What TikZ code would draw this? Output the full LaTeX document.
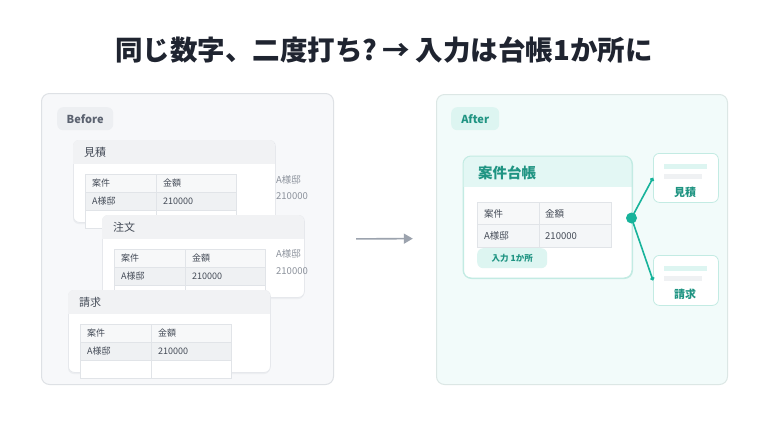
\documentclass[tikz,border=0pt]{standalone}
\usepackage{fontspec}
\setmainfont{Noto Sans CJK JP}
\usetikzlibrary{arrows.meta}
\definecolor{ink}{HTML}{1F2430}
\definecolor{bpanel}{HTML}{F7F8FA}
\definecolor{bpanelline}{HTML}{DEE1E5}
\definecolor{tagg}{HTML}{EDEFF2}
\definecolor{taggtext}{HTML}{5B6270}
\definecolor{cardhead}{HTML}{F1F2F4}
\definecolor{cardline}{HTML}{E6E8EC}
\definecolor{cardshadow}{HTML}{ECEEF1}
\definecolor{tabline}{HTML}{E1E4E8}
\definecolor{tabhead}{HTML}{F7F8F9}
\definecolor{tabrow}{HTML}{EFF1F3}
\definecolor{tabrow2}{HTML}{F4F6F8}
\definecolor{tabtext}{HTML}{444B57}
\definecolor{sidetext}{HTML}{8C929C}
\definecolor{apanel}{HTML}{F2FBFA}
\definecolor{apanelline}{HTML}{DCE7E5}
\definecolor{tealtag}{HTML}{DDF5F1}
\definecolor{tealtext}{HTML}{1F9482}
\definecolor{tealc}{HTML}{17B39B}
\definecolor{tealhead}{HTML}{E3F7F4}
\definecolor{tealline}{HTML}{C3EBE3}
\definecolor{arrowgray}{HTML}{9CA3AE}
\definecolor{bargray}{HTML}{EFF1F3}
\tikzset{
  panelbox/.style={rounded corners=8, line width=1, inner sep=0, anchor=north west},
  tagbox/.style={rounded corners=6, inner sep=0, anchor=north west, font=\bfseries\fontsize{11}{13}\selectfont},
  cardbox/.style={draw=cardline, fill=white, rounded corners=6, line width=0.8, inner sep=0, minimum width=202, minimum height=82, anchor=north west},
  tabtxt/.style={anchor=west, inner sep=0, font=\fontsize{9}{11}\selectfont, text=tabtext},
  sidetxt/.style={anchor=west, inner sep=0, font=\fontsize{9.5}{11}\selectfont, text=sidetext},
  smallcard/.style={draw=tealline, fill=white, rounded corners=6, line width=0.8, inner sep=0, minimum width=65, minimum height=49, anchor=north west},
  smalllabel/.style={inner sep=0, font=\bfseries\fontsize{11}{13}\selectfont, text=tealtext},
}
\newcommand\btable[3]{%
  \fill[tabhead] (#2,#3) rectangle ++(151,18);
  \fill[tabrow] (#2,#3+18) rectangle ++(151,18);
  \fill[white] (#2,#3+36) rectangle ++(151,18);
  \draw[tabline, line width=0.8] (#2,#3) rectangle ++(151,54);
  \draw[tabline, line width=0.8] (#2,#3+18) -- ++(151,0);
  \draw[tabline, line width=0.8] (#2,#3+36) -- ++(151,0);
  \draw[tabline, line width=0.8] (#2+71,#3) -- ++(0,54);
  \node[tabtxt] (#1-a) at (#2+7,#3+9.5) {案件};
  \node[tabtxt] (#1-b) at (#2+78,#3+9.5) {金額};
  \node[tabtxt] (#1-c) at (#2+7,#3+27.5) {A様邸};
  \node[tabtxt] (#1-d) at (#2+78,#3+27.5) {210000};
}
\newcommand\bcard[4]{%
  \fill[cardshadow, rounded corners=6] (#2,#3+2) rectangle ++(202,82);
  \node[cardbox] (#1) at (#2,#3) {};
  \begin{scope}
    \clip[rounded corners=6] (#2,#3) rectangle ++(202,82);
    \fill[cardhead] (#2,#3) rectangle ++(202,24);
  \end{scope}
  \node[anchor=west, inner sep=0, font=\fontsize{11}{13}\selectfont, text=tabtext] (#1-t) at (#2+11,#3+12.5) {#4};
  \btable{#1}{#2+12}{#3+34}
}
\begin{document}
\begin{tikzpicture}[x=1pt, y=-1pt]
\useasboundingbox (0,0) rectangle (768,432);
\fill[white] (0,0) rectangle (768,432);

% title
\node[inner sep=0, font=\bfseries\fontsize{27.5}{32}\selectfont, text=ink] (title) at (384,50) {同じ数字、二度打ち?\,→ 入力は台帳1か所に};

% ---------- Before ----------
\node[panelbox, draw=bpanelline, fill=bpanel, minimum width=292, minimum height=291] (before) at (41,93) {};
\node[tagbox, fill=tagg, text=taggtext, minimum width=56, minimum height=23] (beforetag) at (57,107) {Before};

\bcard{mitsu}{73}{140}{見積}
\node[sidetxt] (mitsu-s1) at (276,180) {A様邸};
\node[sidetxt] (mitsu-s2) at (276,196) {210000};

\bcard{chu}{102}{215}{注文}
\node[sidetxt] (chu-s1) at (276,254) {A様邸};
\node[sidetxt] (chu-s2) at (276,271) {210000};

\bcard{sei}{68}{290}{請求}

% arrow
\node[inner sep=0, minimum size=0] (after-anchor) at (436,238.5) {};
\draw[arrowgray, line width=1.6, -{Triangle[length=9pt,width=10pt]}, shorten <=22pt, shorten >=23pt] (before.east) -- (after-anchor);

% ---------- After ----------
\node[panelbox, draw=apanelline, fill=apanel, minimum width=291, minimum height=290] (after) at (436,94) {};
\node[tagbox, fill=tealtag, text=tealtext, minimum width=48, minimum height=23] (aftertag) at (451,107) {After};

% main card
\node[panelbox, rounded corners=8, draw=tealline, fill=white, minimum width=169, minimum height=122] (ledger) at (463,156) {};
\begin{scope}
  \clip[rounded corners=8] (463,156) rectangle ++(169,122);
  \fill[tealhead] (463,156) rectangle ++(169,31);
\end{scope}
\draw[tealline, line width=1, rounded corners=8] (463,156) rectangle ++(169,122);
\node[anchor=west, inner sep=0, font=\bfseries\fontsize{14.5}{17}\selectfont, text=tealtext] (ledger-t) at (478,173) {案件台帳};

% table in main card
\fill[tabhead] (477,202) rectangle ++(134,22);
\fill[tabrow2] (477,224) rectangle ++(134,23);
\draw[tabline, line width=0.8] (477,202) rectangle ++(134,45);
\draw[tabline, line width=0.8] (477,224) -- ++(134,0);
\draw[tabline, line width=0.8] (539,202) -- ++(0,45);
\node[tabtxt, font=\fontsize{9.5}{11}\selectfont] (lt-a) at (484,213.5) {案件};
\node[tabtxt, font=\fontsize{9.5}{11}\selectfont] (lt-b) at (545,213.5) {金額};
\node[tabtxt, font=\fontsize{9.5}{11}\selectfont] (lt-c) at (484,236) {A様邸};
\node[tabtxt, font=\fontsize{9.5}{11}\selectfont] (lt-d) at (545,236) {210000};

\node[tagbox, fill=tealtag, text=tealtext, minimum width=70, minimum height=20, font=\bfseries\fontsize{8.5}{10}\selectfont] (onceTag) at (477,248) {入力 1か所};

% small cards
\node[smallcard] (sc1) at (653,153) {};
\fill[tealtag] (664,164) rectangle (707,169);
\fill[bargray] (664,174) rectangle (702,179);
\node[smalllabel] (sc1-t) at (685,192) {見積};

\node[smallcard, minimum height=50] (sc2) at (653,255) {};
\fill[tealtag] (664,266) rectangle (707,271);
\fill[bargray] (664,276) rectangle (702,281);
\node[smalllabel] (sc2-t) at (685,294) {請求};

% hub and connectors
\node[circle, fill=tealc, inner sep=0, minimum size=11] (hub) at (631.5,218) {};
\draw[tealc, line width=1.6, -{Circle[length=4pt]}] (hub.center) -- (sc1.west);
\draw[tealc, line width=1.6, -{Circle[length=4pt]}] (hub.center) -- (sc2.west);
\end{tikzpicture}
\end{document}
